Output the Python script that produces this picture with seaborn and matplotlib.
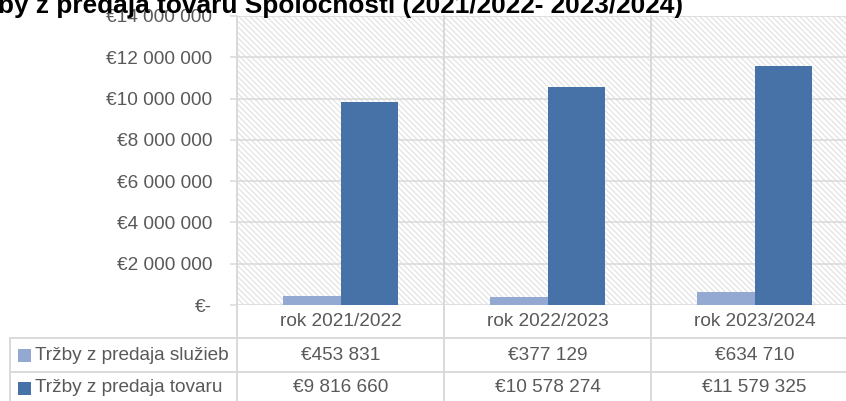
import matplotlib
matplotlib.use("Agg")
import matplotlib.pyplot as plt
from matplotlib.lines import Line2D
from matplotlib.patches import Rectangle
from matplotlib.ticker import FuncFormatter, MultipleLocator
import seaborn as sns
import pandas as pd

# ---- data ----
categories = ["rok 2021/2022", "rok 2022/2023", "rok 2023/2024"]
series_names = ["Tržby z predaja služieb", "Tržby z predaja tovaru"]
sluzby = [453831, 377129, 634710]
tovar = [9816660, 10578274, 11579325]
title = "Tržby z predaja tovaru Spoločnosti (2021/2022- 2023/2024)"

colors = ["#94A9D2", "#4672A8"]
grid_c = "#D9D9D9"
txt_c = "#595959"
FS = 13.7

sns.set_theme(style="white")
plt.rcParams["font.family"] = ["Liberation Sans", "DejaVu Sans"]
plt.rcParams["hatch.color"] = "#E3E3E3"
plt.rcParams["hatch.linewidth"] = 0.9

df = pd.DataFrame({
    "rok": categories * 2,
    "seria": [series_names[0]] * 3 + [series_names[1]] * 3,
    "hodnota": sluzby + tovar,
})

W, H = 846, 401
fig = plt.figure(figsize=(W / 100, H / 100), dpi=100)
ax_l, ax_r, ax_t, ax_b = 237, 858, 16, 305
ax = fig.add_axes([ax_l / W, 1 - ax_b / H, (ax_r - ax_l) / W, (ax_b - ax_t) / H])

# hatched plot background
ax.add_patch(Rectangle((0, 0), 1, 1, transform=ax.transAxes, facecolor="white",
                       edgecolor="#E3E3E3", hatch="\\\\\\\\\\\\", linewidth=0, zorder=0))

sns.barplot(data=df, x="rok", y="hodnota", hue="seria", hue_order=series_names,
            palette=colors, width=0.56, gap=0, saturation=1, ax=ax, legend=False,
            edgecolor="none", linewidth=0, zorder=3)

ax.set_xlim(-0.5, 2.5)
ax.set_ylim(0, 14000000)
ax.yaxis.set_major_locator(MultipleLocator(2000000))


def fmt(v, pos=None):
    if v == 0:
        return "€-"
    return "€" + f"{int(round(v)):,}".replace(",", " ")


ax.yaxis.set_major_formatter(FuncFormatter(fmt))
ax.grid(axis="y", color=grid_c, linewidth=1.1, zorder=1)
ax.set_axisbelow(True)
for s in ax.spines.values():
    s.set_visible(False)
ax.tick_params(axis="y", length=5, width=1.1, color=grid_c, labelcolor=txt_c,
               labelsize=FS, pad=13, left=True)
ax.tick_params(axis="x", bottom=False, labelbottom=False)
ax.set_xlabel("")
ax.set_ylabel("")

tr = ax.get_xaxis_transform()  # x in data, y in axes fraction
fy = lambda py: (ax_b - py) / (ax_b - ax_t)  # pixel y -> axes fraction

# vertical lines (plot left edge + category separators) running down through table
for xv in [-0.5, 0.5, 1.5, 2.5]:
    ax.axvline(xv, ymin=fy(410), ymax=1, color=grid_c, linewidth=1.4,
               clip_on=False, zorder=2)

# table horizontal lines and left border (figure coords)
for py in [338, 372]:
    fig.add_artist(Line2D([10 / W, 1.02], [1 - py / H, 1 - py / H], color=grid_c, linewidth=1.4))
fig.add_artist(Line2D([10 / W, 10 / W], [1 - 338 / H, -0.02], color=grid_c, linewidth=1.4))

# header row: category names
for i, c in enumerate(categories):
    ax.text(i, fy(321), c, transform=tr, ha="center", va="center", fontsize=FS,
            color=txt_c, clip_on=False)

# data rows
rows_y = [355, 388]
for (name, vals, col, py) in zip(series_names, [sluzby, tovar], colors, rows_y):
    fig.add_artist(Rectangle((18 / W, 1 - (py + 7) / H), 13 / W, 13 / H,
                             facecolor=col, edgecolor="none", transform=fig.transFigure))
    fig.text(35 / W, 1 - py / H, name, ha="left", va="center", fontsize=FS, color=txt_c)
    for i, v in enumerate(vals):
        ax.text(i, fy(py), fmt(v), transform=tr, ha="center", va="center", fontsize=FS,
                color=txt_c, clip_on=False)

# title (partly cut off at the left and top, as in the reference)
fig.text(-40 / W, 1 - 13 / H, title, ha="left", va="baseline", fontsize=18.9,
         fontweight="bold", color="black")

fig.savefig("out.png", dpi=100)
